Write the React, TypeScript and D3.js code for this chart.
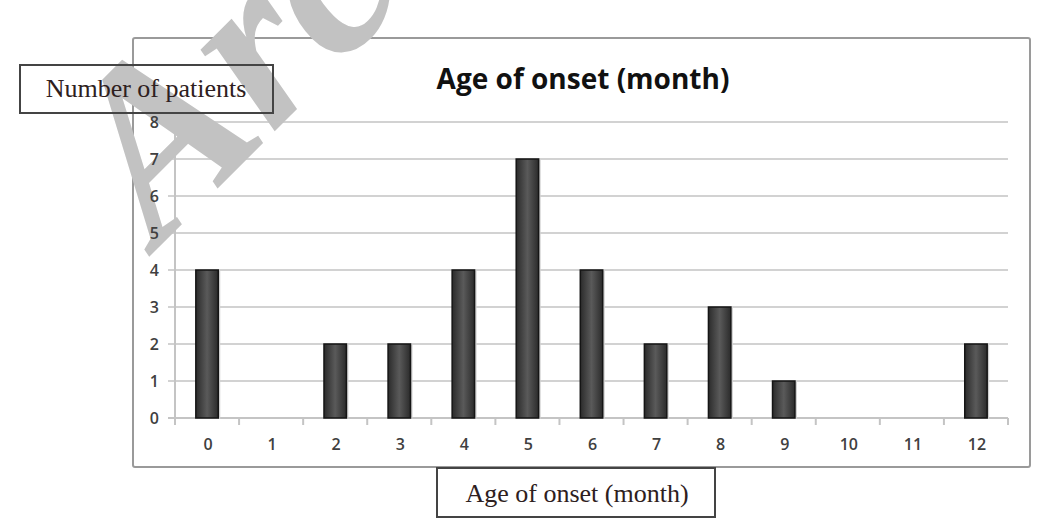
import { useEffect, useRef } from "react";
import * as d3 from "d3";

// Age of onset (month) -> number of patients
const categories = ["0", "1", "2", "3", "4", "5", "6", "7", "8", "9", "10", "11", "12"];
const patients = [4, 0, 2, 2, 4, 7, 4, 2, 3, 1, 0, 0, 2];
const yTicks = [0, 1, 2, 3, 4, 5, 6, 7, 8];

const W = 1047;
const H = 523;
const PLOT = { left: 175, right: 1008, top: 122, bottom: 418 };

export default function App() {
  const svgRef = useRef<SVGSVGElement>(null);

  useEffect(() => {
    if (!svgRef.current) return;
    const svg = d3.select(svgRef.current);
    svg.selectAll("*").remove();

    const defs = svg.append("defs");
    const grad = defs
      .append("linearGradient")
      .attr("id", "barGrad")
      .attr("x1", "0%")
      .attr("x2", "100%")
      .attr("y1", "0%")
      .attr("y2", "0%");
    grad.append("stop").attr("offset", "0%").attr("stop-color", "#2b2b2b");
    grad.append("stop").attr("offset", "50%").attr("stop-color", "#5a5a5a");
    grad.append("stop").attr("offset", "100%").attr("stop-color", "#2b2b2b");

    svg.append("rect").attr("width", W).attr("height", H).attr("fill", "#fff");

    // outer chart frame
    svg
      .append("rect")
      .attr("x", 133)
      .attr("y", 38)
      .attr("width", 897)
      .attr("height", 429)
      .attr("rx", 2)
      .attr("fill", "#fff")
      .attr("stroke", "#9a9a9a")
      .attr("stroke-width", 2);

    const x = d3
      .scaleBand()
      .domain(categories)
      .range([PLOT.left, PLOT.right])
      .paddingInner(0.65)
      .paddingOuter(0.325);

    const y = d3.scaleLinear().domain([0, 8]).range([PLOT.bottom, PLOT.top]);

    // gridlines
    svg
      .append("g")
      .selectAll("line")
      .data(yTicks)
      .join("line")
      .attr("x1", PLOT.left - 7)
      .attr("x2", PLOT.right)
      .attr("y1", (d) => y(d))
      .attr("y2", (d) => y(d))
      .attr("stroke", "#d2d2d2")
      .attr("stroke-width", 2);

    // y axis
    svg
      .append("line")
      .attr("x1", PLOT.left)
      .attr("x2", PLOT.left)
      .attr("y1", PLOT.top - 2)
      .attr("y2", PLOT.bottom + 6)
      .attr("stroke", "#c4c4c4")
      .attr("stroke-width", 2);

    // watermark (sits under the texts)
    svg
      .append("text")
      .attr("transform", "translate(158,248) rotate(-45)")
      .attr("font-family", "Liberation Serif, serif")
      .attr("font-weight", 700)
      .attr("font-style", "italic")
      .attr("font-size", 240)
      .attr("fill", "#c2c2c2")
      .text("Archive");

    svg
      .append("g")
      .selectAll("text")
      .data(yTicks)
      .join("text")
      .attr("x", PLOT.left - 16)
      .attr("y", (d) => y(d) + 6)
      .attr("text-anchor", "end")
      .attr("font-family", "Open Sans, sans-serif")
      .attr("font-weight", 600)
      .attr("font-size", 16)
      .attr("fill", "#404040")
      .text((d) => d);

    // x axis
    svg
      .append("line")
      .attr("x1", PLOT.left - 7)
      .attr("x2", PLOT.right)
      .attr("y1", PLOT.bottom)
      .attr("y2", PLOT.bottom)
      .attr("stroke", "#c4c4c4")
      .attr("stroke-width", 2);

    const step = x.step();
    const boundaries = d3.range(categories.length + 1).map((i) => PLOT.left + i * step);
    svg
      .append("g")
      .selectAll("line")
      .data(boundaries)
      .join("line")
      .attr("x1", (d) => d)
      .attr("x2", (d) => d)
      .attr("y1", PLOT.bottom)
      .attr("y2", PLOT.bottom + 7)
      .attr("stroke", "#c4c4c4")
      .attr("stroke-width", 2);

    svg
      .append("g")
      .selectAll("text")
      .data(categories)
      .join("text")
      .attr("x", (d) => (x(d) as number) + x.bandwidth() / 2 + 1)
      .attr("y", PLOT.bottom + 32)
      .attr("text-anchor", "middle")
      .attr("font-family", "Open Sans, sans-serif")
      .attr("font-weight", 600)
      .attr("font-size", 16)
      .attr("fill", "#404040")
      .text((d) => d);

    // bars
    const bars = categories.map((c, i) => ({ c, v: patients[i] })).filter((d) => d.v > 0);
    svg
      .append("g")
      .selectAll("rect.shadow")
      .data(bars)
      .join("rect")
      .attr("x", (d) => (x(d.c) as number) + 2)
      .attr("y", (d) => y(d.v) + 1)
      .attr("width", x.bandwidth())
      .attr("height", (d) => PLOT.bottom - y(d.v))
      .attr("fill", "#cfcfcf");
    svg
      .append("g")
      .selectAll("rect.bar")
      .data(bars)
      .join("rect")
      .attr("x", (d) => x(d.c) as number)
      .attr("y", (d) => y(d.v))
      .attr("width", x.bandwidth())
      .attr("height", (d) => PLOT.bottom - y(d.v))
      .attr("fill", "url(#barGrad)")
      .attr("stroke", "#151515")
      .attr("stroke-width", 1.5);

    // title
    svg
      .append("text")
      .attr("x", 583)
      .attr("y", 89)
      .attr("text-anchor", "middle")
      .attr("font-family", "Open Sans, sans-serif")
      .attr("font-weight", 700)
      .attr("font-size", 28)
      .attr("fill", "#111")
      .text("Age of onset (month)");

    // axis title boxes
    svg
      .append("rect")
      .attr("x", 20)
      .attr("y", 65)
      .attr("width", 253)
      .attr("height", 48)
      .attr("fill", "none")
      .attr("stroke", "#444")
      .attr("stroke-width", 2);
    svg
      .append("rect")
      .attr("x", 437)
      .attr("y", 468)
      .attr("width", 278)
      .attr("height", 49)
      .attr("fill", "#fff")
      .attr("stroke", "#444")
      .attr("stroke-width", 2);

    svg
      .append("text")
      .attr("x", 146)
      .attr("y", 97)
      .attr("text-anchor", "middle")
      .attr("font-family", "Liberation Serif, serif")
      .attr("font-size", 26)
      .attr("fill", "#2e2020")
      .text("Number of patients");
    svg
      .append("text")
      .attr("x", 577)
      .attr("y", 502)
      .attr("text-anchor", "middle")
      .attr("font-family", "Liberation Serif, serif")
      .attr("font-size", 26)
      .attr("fill", "#2e2020")
      .text("Age of onset (month)");
  }, []);

  return (
    <div style={{ position: "absolute", left: 0, top: 0 }}>
      <svg ref={svgRef} width={W} height={H} style={{ display: "block" }} />
    </div>
  );
}
